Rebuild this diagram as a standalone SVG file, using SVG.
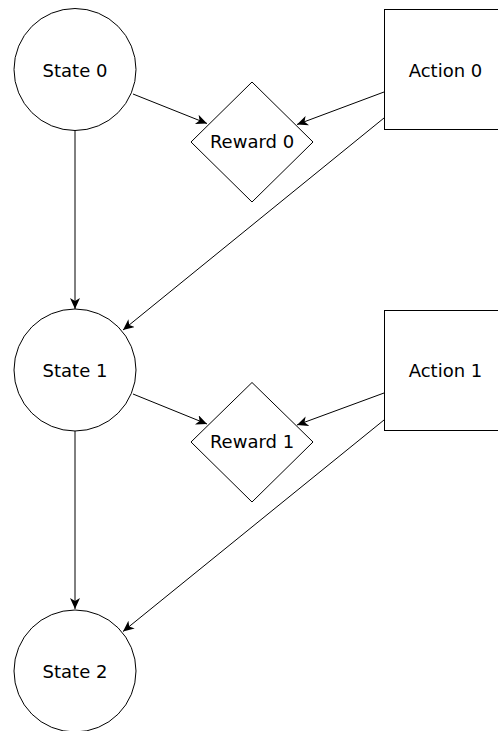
<svg xmlns="http://www.w3.org/2000/svg" width="498" height="731" viewBox="0 0 498 731">
  <style>
    .shape { fill: #ffffff; stroke: #000000; stroke-width: 1; }
    .label { font-family: "DejaVu Sans", "Liberation Sans", sans-serif; font-size: 18px; fill: #000000; text-anchor: middle; }
    .edge { fill: none; stroke: #000000; stroke-width: 1; marker-end: url(#arrow); }
  </style>
  <defs>
    <marker id="arrow" markerUnits="userSpaceOnUse" markerWidth="14" markerHeight="12" refX="11" refY="5" orient="auto">
      <path d="M0,0 L11,5 L0,10 L3,5 Z" fill="#000000"/>
    </marker>
  </defs>
  <rect width="498" height="731" fill="#ffffff"/>

  <g id="connectors">
    <line class="edge" x1="75" y1="130" x2="75" y2="309"/>
    <line class="edge" x1="133" y1="94" x2="207" y2="123.5"/>
    <line class="edge" x1="384" y1="92" x2="297" y2="124.5"/>
    <line class="edge" x1="384" y1="118" x2="123" y2="330"/>
    <line class="edge" x1="75" y1="431" x2="75" y2="609"/>
    <line class="edge" x1="133" y1="394" x2="207" y2="424"/>
    <line class="edge" x1="384" y1="393" x2="297" y2="425"/>
    <line class="edge" x1="384" y1="420" x2="123" y2="631.5"/>
  </g>

  <g id="state0">
    <circle class="shape" cx="75" cy="69.5" r="61"/>
    <text class="label" x="75" y="76.5">State 0</text>
  </g>
  <g id="reward0">
    <polygon class="shape" points="252,82 313,142 252,202 191,142"/>
    <text class="label" x="252" y="148">Reward 0</text>
  </g>
  <g id="action0">
    <rect class="shape" x="384.5" y="9.5" width="122" height="120"/>
    <text class="label" x="445.5" y="76.5">Action 0</text>
  </g>

  <g id="state1">
    <circle class="shape" cx="75" cy="370" r="61"/>
    <text class="label" x="75" y="377">State 1</text>
  </g>
  <g id="reward1">
    <polygon class="shape" points="252,382.5 313,442 252,502 191,442"/>
    <text class="label" x="252" y="448">Reward 1</text>
  </g>
  <g id="action1">
    <rect class="shape" x="384.5" y="310.5" width="122" height="120"/>
    <text class="label" x="445.5" y="377">Action 1</text>
  </g>

  <g id="state2">
    <circle class="shape" cx="75" cy="671" r="61"/>
    <text class="label" x="75" y="678">State 2</text>
  </g>
</svg>
